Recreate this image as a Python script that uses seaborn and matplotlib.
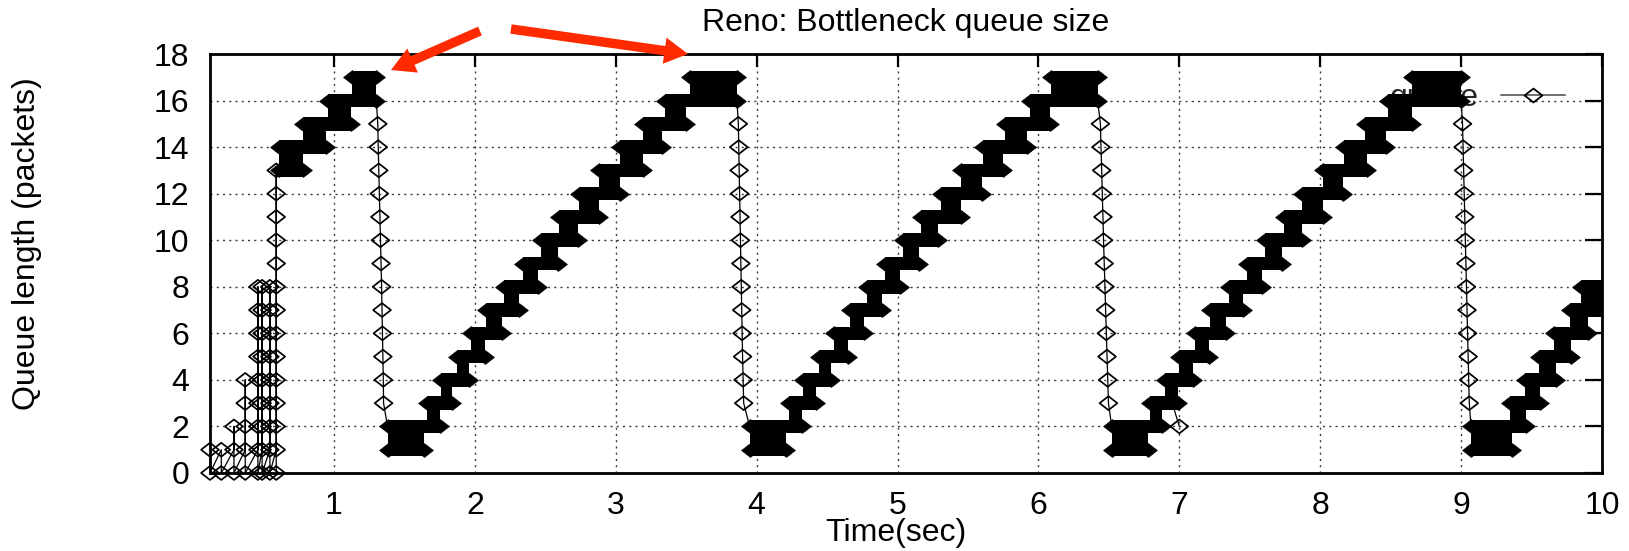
import numpy as np
import pandas as pd
import matplotlib
matplotlib.use("Agg")
import matplotlib.pyplot as plt
from matplotlib.path import Path
from matplotlib.lines import Line2D
import seaborn as sns

# ---------------------------------------------------------------- data
TITLE = "Reno: Bottleneck queue size"
X_LABEL = "Time(sec)"
Y_LABEL = "Queue length (packets)"
SERIES_LABEL = "queue"
X_TICKS = [1, 2, 3, 4, 5, 6, 7, 8, 9, 10]
Y_TICKS = [0, 2, 4, 6, 8, 10, 12, 14, 16, 18]

# slow start: burst instants and the highest queue level each burst reaches
ss_time = [0.12, 0.20, 0.29, 0.37, 0.46, 0.49, 0.545, 0.59]
ss_peak = [1, 1, 2, 4, 8, 8, 8, 13]

# congestion avoidance ramps: queue level and the time span spent at it
ramp_a_level = [13, 14, 15, 16, 17]
ramp_a_start = [0.61, 0.61, 0.78, 0.96, 1.13]
ramp_a_end = [0.78, 0.94, 1.12, 1.30, 1.30]

ramp_b_level = [1, 2, 3, 4, 5, 6, 7, 8, 9, 10, 11, 12, 13, 14, 15, 16, 17]
ramp_b_start = [1.38, 1.38, 1.66, 1.76, 1.87, 1.97, 2.08, 2.21, 2.34, 2.47,
                2.60, 2.74, 2.88, 3.03, 3.19, 3.35, 3.53]
ramp_b_end = [1.64, 1.75, 1.84, 1.96, 2.07, 2.19, 2.31, 2.45, 2.59, 2.73,
              2.88, 3.03, 3.19, 3.33, 3.50, 3.86, 3.86]

ramp_c_level = [1, 2, 3, 4, 5, 6, 7, 8, 9, 10, 11, 12, 13, 14, 15, 16, 17]
ramp_c_start = [3.95, 3.95, 4.23, 4.33, 4.44, 4.55, 4.66, 4.78, 4.91, 5.04,
                5.17, 5.31, 5.45, 5.61, 5.76, 5.94, 6.09]
ramp_c_end = [4.21, 4.32, 4.42, 4.53, 4.65, 4.76, 4.89, 5.02, 5.15, 5.29,
              5.45, 5.60, 5.75, 5.92, 6.08, 6.42, 6.42]

ramp_d_level = [1, 2, 3, 4, 5, 6, 7, 8, 9, 10, 11, 12, 13, 14, 15, 16, 17]
ramp_d_start = [6.52, 6.52, 6.79, 6.90, 7.00, 7.11, 7.22, 7.35, 7.48, 7.61,
                7.74, 7.87, 8.02, 8.17, 8.32, 8.48, 8.65]
ramp_d_end = [6.78, 6.88, 6.99, 7.10, 7.21, 7.33, 7.45, 7.59, 7.73, 7.87,
              8.02, 8.16, 8.33, 8.47, 8.65, 9.00, 9.00]

ramp_e_level = [1, 2, 3, 4, 5, 6, 7, 8]
ramp_e_start = [9.07, 9.07, 9.35, 9.45, 9.55, 9.66, 9.77, 9.85]
ramp_e_end = [9.36, 9.46, 9.56, 9.67, 9.78, 9.90, 10.05, 10.05]

# queue drain after each loss
drain_level = [15, 14, 13, 12, 11, 10, 9, 8, 7, 6, 5, 4, 3]
drain_a_time = [1.311, 1.314, 1.318, 1.322, 1.326, 1.330, 1.334, 1.338,
                1.341, 1.344, 1.347, 1.350, 1.352]
drain_b_time = [3.870, 3.873, 3.876, 3.879, 3.882, 3.885, 3.888, 3.891,
                3.894, 3.897, 3.900, 3.904, 3.908]
drain_c_time = [6.440, 6.444, 6.449, 6.453, 6.458, 6.462, 6.467, 6.472,
                6.477, 6.482, 6.487, 6.492, 6.497]
drain_d_time = [9.010, 9.014, 9.018, 9.022, 9.026, 9.030, 9.034, 9.038,
                9.042, 9.046, 9.050, 9.054, 9.058]

# short dip during the fourth ramp
dip_time = [6.95, 7.00]
dip_level = [3, 2]

# ---------------------------------------------------------------- style
RED = "#ff2a00"
BAND_H = 0.58          # height of a filled queue band, in packets
MARK_PT = 12.8         # diamond width in points
DIAMOND = Path([(-1, 0), (0, 0.78), (1, 0), (0, -0.78), (-1, 0)],
               [Path.MOVETO, Path.LINETO, Path.LINETO, Path.LINETO, Path.CLOSEPOLY])

sns.set_theme(style="white")
plt.rcParams["font.family"] = ["Liberation Sans", "DejaVu Sans"]
FS = 23

fig = plt.figure(figsize=(16.29, 5.51), dpi=100)
ax = fig.add_axes([210 / 1629, 1 - 473 / 551, 1392 / 1629, 419 / 551])

ramps = [
    (ramp_a_level, ramp_a_start, ramp_a_end),
    (ramp_b_level, ramp_b_start, ramp_b_end),
    (ramp_c_level, ramp_c_start, ramp_c_end),
    (ramp_d_level, ramp_d_start, ramp_d_end),
    (ramp_e_level, ramp_e_start, ramp_e_end),
]
drains = [drain_a_time, drain_b_time, drain_c_time, drain_d_time]

# filled ramps: one band per level, joined to the next level where they overlap
for levels, starts, ends in ramps:
    lv = np.asarray(levels, float)
    st = np.asarray(starts, float)
    en = np.asarray(ends, float)
    ax.barh(lv, en - st, left=st, height=BAND_H, color="black", lw=0, zorder=3)
    ov_l = st[1:]
    ov_r = en[:-1]
    keep = ov_r > ov_l
    ax.bar(((ov_l + ov_r) / 2)[keep], 1.0, width=(ov_r - ov_l)[keep],
           bottom=lv[:-1][keep], color="black", lw=0, zorder=3)
    tips = pd.DataFrame({"t": np.concatenate([st, en]),
                         "q": np.concatenate([lv, lv])})
    sns.scatterplot(data=tips, x="t", y="q", marker=DIAMOND, s=MARK_PT ** 2,
                    color="black", edgecolor="black", linewidth=0.5,
                    zorder=3, ax=ax, legend=False)

# hollow-marker traces
hollow = []
trace_lines = []
# slow start bursts
pts_t, pts_q = [], []
for i, (t, p) in enumerate(zip(ss_time, ss_peak)):
    up = list(range(0 if i == 0 else 1, p + 1))
    down = list(range(p - 1, -1, -1))
    for q in up + down:
        pts_t.append(t)
        pts_q.append(q)
    for q in range(0, p + 1):
        hollow.append((t, q))
trace_lines.append((pts_t, pts_q))

# drains, joined to the end of the peak band and the start of the next ramp
for k, dt in enumerate(drains):
    lv, st, en = ramps[k]
    nlv, nst, nen = ramps[k + 1]
    top_t = en[lv.index(16)]
    bot_t = nst[nlv.index(2)]
    trace_lines.append(([top_t] + list(dt) + [bot_t],
                        [16] + list(drain_level) + [2]))
    hollow.extend(zip(dt, drain_level))

trace_lines.append((dip_time, dip_level))
hollow.append((dip_time[-1], dip_level[-1]))

for tx, ty in trace_lines:
    sns.lineplot(x=tx, y=ty, sort=False, estimator=None, color="black",
                 lw=0.9, zorder=2.8, ax=ax)

hol = pd.DataFrame(hollow, columns=["t", "q"])
sns.scatterplot(data=hol, x="t", y="q", marker=DIAMOND, s=MARK_PT ** 2,
                facecolors="none", edgecolor="black", linewidth=1.25,
                color="black", zorder=2.9, ax=ax, legend=False, clip_on=False)

# ---------------------------------------------------------------- axes
ax.set_xlim(0.12, 10)
ax.set_ylim(0, 18)
ax.set_xticks(X_TICKS)
ax.set_yticks(Y_TICKS)
ax.set_xticklabels([str(v) for v in X_TICKS])
ax.set_yticklabels([str(v) for v in Y_TICKS])
ax.grid(True, color="#3c3c3c", linestyle=(0, (1.5, 3.0)), linewidth=1.0)
ax.set_axisbelow(True)
for sp in ax.spines.values():
    sp.set_color("black")
    sp.set_linewidth(2.0)
ax.tick_params(axis="both", direction="in", top=True, right=True,
               width=1.6, colors="black", labelsize=FS)
ax.tick_params(axis="x", length=9.5, pad=13)
ax.tick_params(axis="y", length=12, pad=15)

ax.set_xlabel(X_LABEL, fontsize=FS, color="black")
ax.xaxis.set_label_coords(0.493, -0.108)
ax.set_ylabel(Y_LABEL, fontsize=FS, color="black")
ax.yaxis.set_label_coords(-0.121, 0.547)
ax.text(0.5, 1.074, TITLE, transform=ax.transAxes, ha="center", va="center",
        fontsize=FS, color="black")

handle = Line2D([], [], color="#6e6e6e", lw=1.4, marker=DIAMOND,
                markersize=MARK_PT, markerfacecolor="none",
                markeredgecolor="black", markeredgewidth=1.3)
leg = ax.legend([handle], [SERIES_LABEL], loc="center right",
                bbox_to_anchor=(0.9734, 0.8957), frameon=False,
                markerfirst=False, borderpad=0, borderaxespad=0,
                handlelength=2.0, handletextpad=0.7, fontsize=FS)
leg.set_zorder(2)

# highlight arrows pointing at the queue peaks
arrow_kw = dict(arrowstyle="simple,head_length=0.85,head_width=0.95,tail_width=0.34",
                mutation_scale=20, color=RED, shrinkA=0, shrinkB=0, lw=0)
ax.annotate("", xy=(391, 481), xytext=(480, 520), xycoords="figure pixels",
            textcoords="figure pixels", arrowprops=arrow_kw, annotation_clip=False)
ax.annotate("", xy=(688, 497), xytext=(511, 522), xycoords="figure pixels",
            textcoords="figure pixels", arrowprops=arrow_kw, annotation_clip=False)

fig.savefig("out.png", dpi=100, facecolor="white")
